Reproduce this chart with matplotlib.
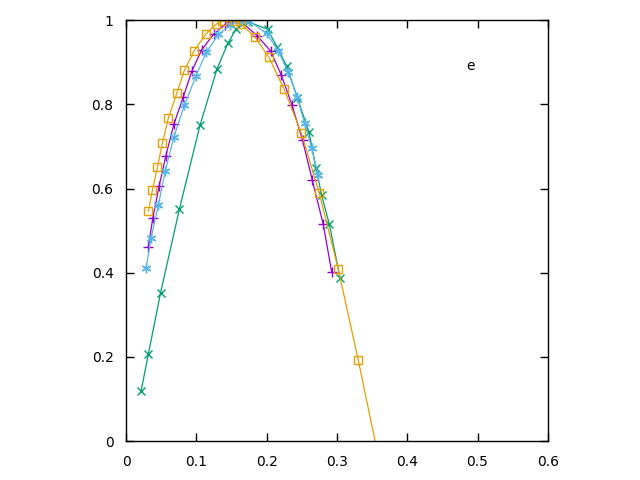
import matplotlib
matplotlib.use("Agg")
import matplotlib.pyplot as plt

# four curves (gnuplot-style default colours)
purple_x = [0.0317, 0.0381, 0.0469, 0.0566, 0.0680, 0.0815, 0.0938, 0.1076, 0.1244, 0.1408,
            0.1500, 0.1621, 0.1863, 0.2055, 0.2208, 0.2360, 0.2510, 0.2649, 0.2805, 0.2925]
purple_y = [0.4620, 0.5309, 0.6050, 0.6781, 0.7530, 0.8183, 0.8800, 0.9295, 0.9667, 0.9893,
            0.9976, 0.9988, 0.9632, 0.9271, 0.8694, 0.7988, 0.7150, 0.6200, 0.5147, 0.4021]

green_x = [0.0213, 0.0317, 0.0491, 0.0758, 0.1052, 0.1294, 0.1447, 0.1564, 0.1739, 0.2012,
           0.2151, 0.2285, 0.2438, 0.2602, 0.2702, 0.2782, 0.2891, 0.3043]
green_y = [0.1188, 0.2067, 0.3527, 0.5506, 0.7506, 0.8843, 0.9447, 0.9786, 0.9960, 0.9786,
           0.9351, 0.8907, 0.8147, 0.7340, 0.6485, 0.5843, 0.5154, 0.3884]

blue_x = [0.0284, 0.0355, 0.0459, 0.0557, 0.0680, 0.0829, 0.0991, 0.1140, 0.1312, 0.1479,
          0.1614, 0.1753, 0.2001, 0.2166, 0.2308, 0.2434, 0.2541, 0.2640, 0.2730]
blue_y = [0.4105, 0.4822, 0.5606, 0.6413, 0.7228, 0.7976, 0.8663, 0.9233, 0.9660, 0.9881,
          0.9976, 0.9976, 0.9684, 0.9271, 0.8758, 0.8166, 0.7546, 0.6960, 0.6325]

orange_x = [0.0317, 0.0374, 0.0445, 0.0516, 0.0601, 0.0721, 0.0829, 0.0971, 0.1133, 0.1280,
            0.1369, 0.1550, 0.1639, 0.1834, 0.2033, 0.2249, 0.2495, 0.2749, 0.3019, 0.3303, 0.3580]
orange_y = [0.5463, 0.5955, 0.6501, 0.7071, 0.7672, 0.8259, 0.8808, 0.9276, 0.9667, 0.9905,
            0.9976, 0.9976, 0.9898, 0.9603, 0.9114, 0.8356, 0.7309, 0.5884, 0.4081, 0.1924, -0.0300]

xticks = [0, 0.1, 0.2, 0.3, 0.4, 0.5, 0.6]
xtick_labels = ["0", "0.1", "0.2", "0.3", "0.4", "0.5", "0.6"]
yticks = [0, 0.2, 0.4, 0.6, 0.8, 1]
ytick_labels = ["0", "0.2", "0.4", "0.6", "0.8", "1"]

fig = plt.figure(figsize=(6.4, 4.8), dpi=100)
ax = fig.add_axes([0.197, 0.081, 0.659, 0.877])

ax.plot(purple_x, purple_y, color="#9400d3", lw=0.9, marker="+", ms=7, mew=1)
ax.plot(green_x, green_y, color="#009e73", lw=0.9, marker="x", ms=6, mew=1)
ax.plot(blue_x, blue_y, color="#56b4e9", lw=0.9, marker=(6, 2, 0), ms=7, mew=1)
ax.plot(orange_x, orange_y, color="#e69f00", lw=0.9, marker="s", ms=6, mew=1,
        markerfacecolor="none")

ax.set_xlim(0, 0.6)
ax.set_ylim(0, 1)
ax.set_xticks(xticks)
ax.set_xticklabels(xtick_labels)
ax.set_yticks(yticks)
ax.set_yticklabels(ytick_labels)
ax.tick_params(direction="in", top=True, right=True, length=6, width=1,
               labelsize=10)
ax.tick_params(axis="x", pad=10)
ax.tick_params(axis="y", pad=9)
for s in ax.spines.values():
    s.set_linewidth(1)

ax.text(0.49, 0.89, "e", fontsize=10, ha="center", va="center")

fig.savefig("out.png", dpi=100)
